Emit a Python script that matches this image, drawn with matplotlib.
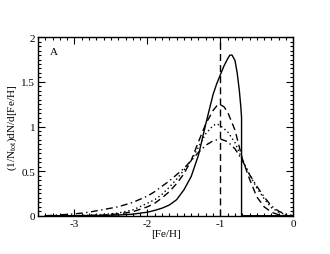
import matplotlib
matplotlib.use("Agg")
import matplotlib.pyplot as plt
from matplotlib.ticker import MultipleLocator

plt.rcParams['font.family'] = ['Liberation Serif', 'DejaVu Serif']
plt.rcParams['mathtext.fontset'] = 'stix'
plt.rcParams['axes.unicode_minus'] = False

# Solid curve (sharp cutoff at -0.71)
x_solid = [-3.4, -3.0, -2.6, -2.4, -2.2, -2.0, -1.9, -1.8, -1.7, -1.6, -1.5, -1.4, -1.3,
           -1.2, -1.1, -1.05, -1.0, -0.95, -0.9, -0.87, -0.84, -0.8, -0.77, -0.74, -0.72, -0.71, -0.71, 0.0]
y_solid = [0.0, 0.0, 0.003, 0.008, 0.018, 0.04, 0.06, 0.085, 0.12, 0.18, 0.29, 0.44, 0.68,
           1.03, 1.36, 1.48, 1.58, 1.68, 1.76, 1.80, 1.80, 1.74, 1.60, 1.40, 1.22, 1.10, 0.0, 0.0]

# Dashed curve
x_dash = [-3.4, -3.0, -2.6, -2.4, -2.2, -2.0, -1.9, -1.8, -1.7, -1.6, -1.5, -1.4, -1.3,
          -1.2, -1.1, -1.05, -1.0, -0.95, -0.9, -0.8, -0.7, -0.6, -0.5, -0.4, -0.3, -0.2, -0.1, 0.0]
y_dash = [0.0, 0.0, 0.008, 0.02, 0.045, 0.10, 0.14, 0.20, 0.27, 0.36, 0.47, 0.62, 0.83,
          1.03, 1.18, 1.23, 1.245, 1.22, 1.16, 0.96, 0.64, 0.41, 0.21, 0.10, 0.04, 0.01, 0.0, 0.0]

# Dotted curve
x_dot = [-3.4, -3.0, -2.8, -2.6, -2.4, -2.2, -2.0, -1.9, -1.8, -1.7, -1.6, -1.5, -1.4, -1.3,
         -1.2, -1.1, -1.05, -1.0, -0.9, -0.8, -0.7, -0.6, -0.5, -0.4, -0.3, -0.2, -0.1, 0.0]
y_dot = [0.0, 0.0, 0.006, 0.015, 0.03, 0.065, 0.14, 0.18, 0.24, 0.32, 0.41, 0.51, 0.62, 0.77,
         0.92, 1.01, 1.03, 1.01, 0.94, 0.82, 0.63, 0.46, 0.31, 0.19, 0.09, 0.04, 0.01, 0.0]

# Dash-dot curve
x_dd = [-3.4, -3.0, -2.8, -2.6, -2.4, -2.2, -2.0, -1.9, -1.8, -1.7, -1.6, -1.5, -1.4, -1.3,
        -1.2, -1.1, -1.0, -0.9, -0.8, -0.7, -0.6, -0.5, -0.4, -0.3, -0.2, -0.1, 0.0]
y_dd = [0.0, 0.02, 0.04, 0.07, 0.10, 0.15, 0.22, 0.27, 0.33, 0.39, 0.46, 0.53, 0.62, 0.71,
        0.79, 0.84, 0.86, 0.83, 0.75, 0.62, 0.46, 0.33, 0.21, 0.11, 0.05, 0.015, 0.0]

vline_x = -1.0

x_major = [-3, -2, -1, 0]
y_major = [0, 0.5, 1, 1.5, 2]
y_major_labels = ['0', '0.5', '1', '1.5', '2']

fig = plt.figure(figsize=(3.3, 2.55), dpi=100)
ax = fig.add_axes([0.115, 0.150, 0.774, 0.700])

lw = 1.0
ax.plot(x_solid, y_solid, color='black', lw=lw, linestyle='-')
ax.plot(x_dash, y_dash, color='black', lw=lw, linestyle=(0, (5, 3)))
ax.plot(x_dot, y_dot, color='black', lw=lw, linestyle=(0, (1, 2)))
ax.plot(x_dd, y_dd, color='black', lw=lw, linestyle=(0, (5, 2.5, 1, 2.5)))
ax.axvline(vline_x, color='black', lw=lw, linestyle=(0, (5, 3)))

ax.set_xlim(-3.5, 0)
ax.set_ylim(0, 2)
ax.set_xticks(x_major)
ax.set_yticks(y_major)
ax.set_yticklabels(y_major_labels)
ax.xaxis.set_minor_locator(MultipleLocator(0.1))
ax.yaxis.set_minor_locator(MultipleLocator(0.05))
ax.tick_params(which='both', direction='in', top=True, right=True, labelsize=8, pad=2, width=0.8)
ax.tick_params(which='major', length=5)
ax.tick_params(which='minor', length=2.5)
for s in ax.spines.values():
    s.set_linewidth(1.0)

ax.set_xlabel('[Fe/H]', fontsize=8, labelpad=1)
ax.set_ylabel(r'(1/N$_{\rm tot}$)dN/d[Fe/H]', fontsize=8, labelpad=2)
ax.text(0.045, 0.92, 'A', transform=ax.transAxes, fontsize=8, ha='left', va='center')

fig.savefig('out.png', dpi=100)
